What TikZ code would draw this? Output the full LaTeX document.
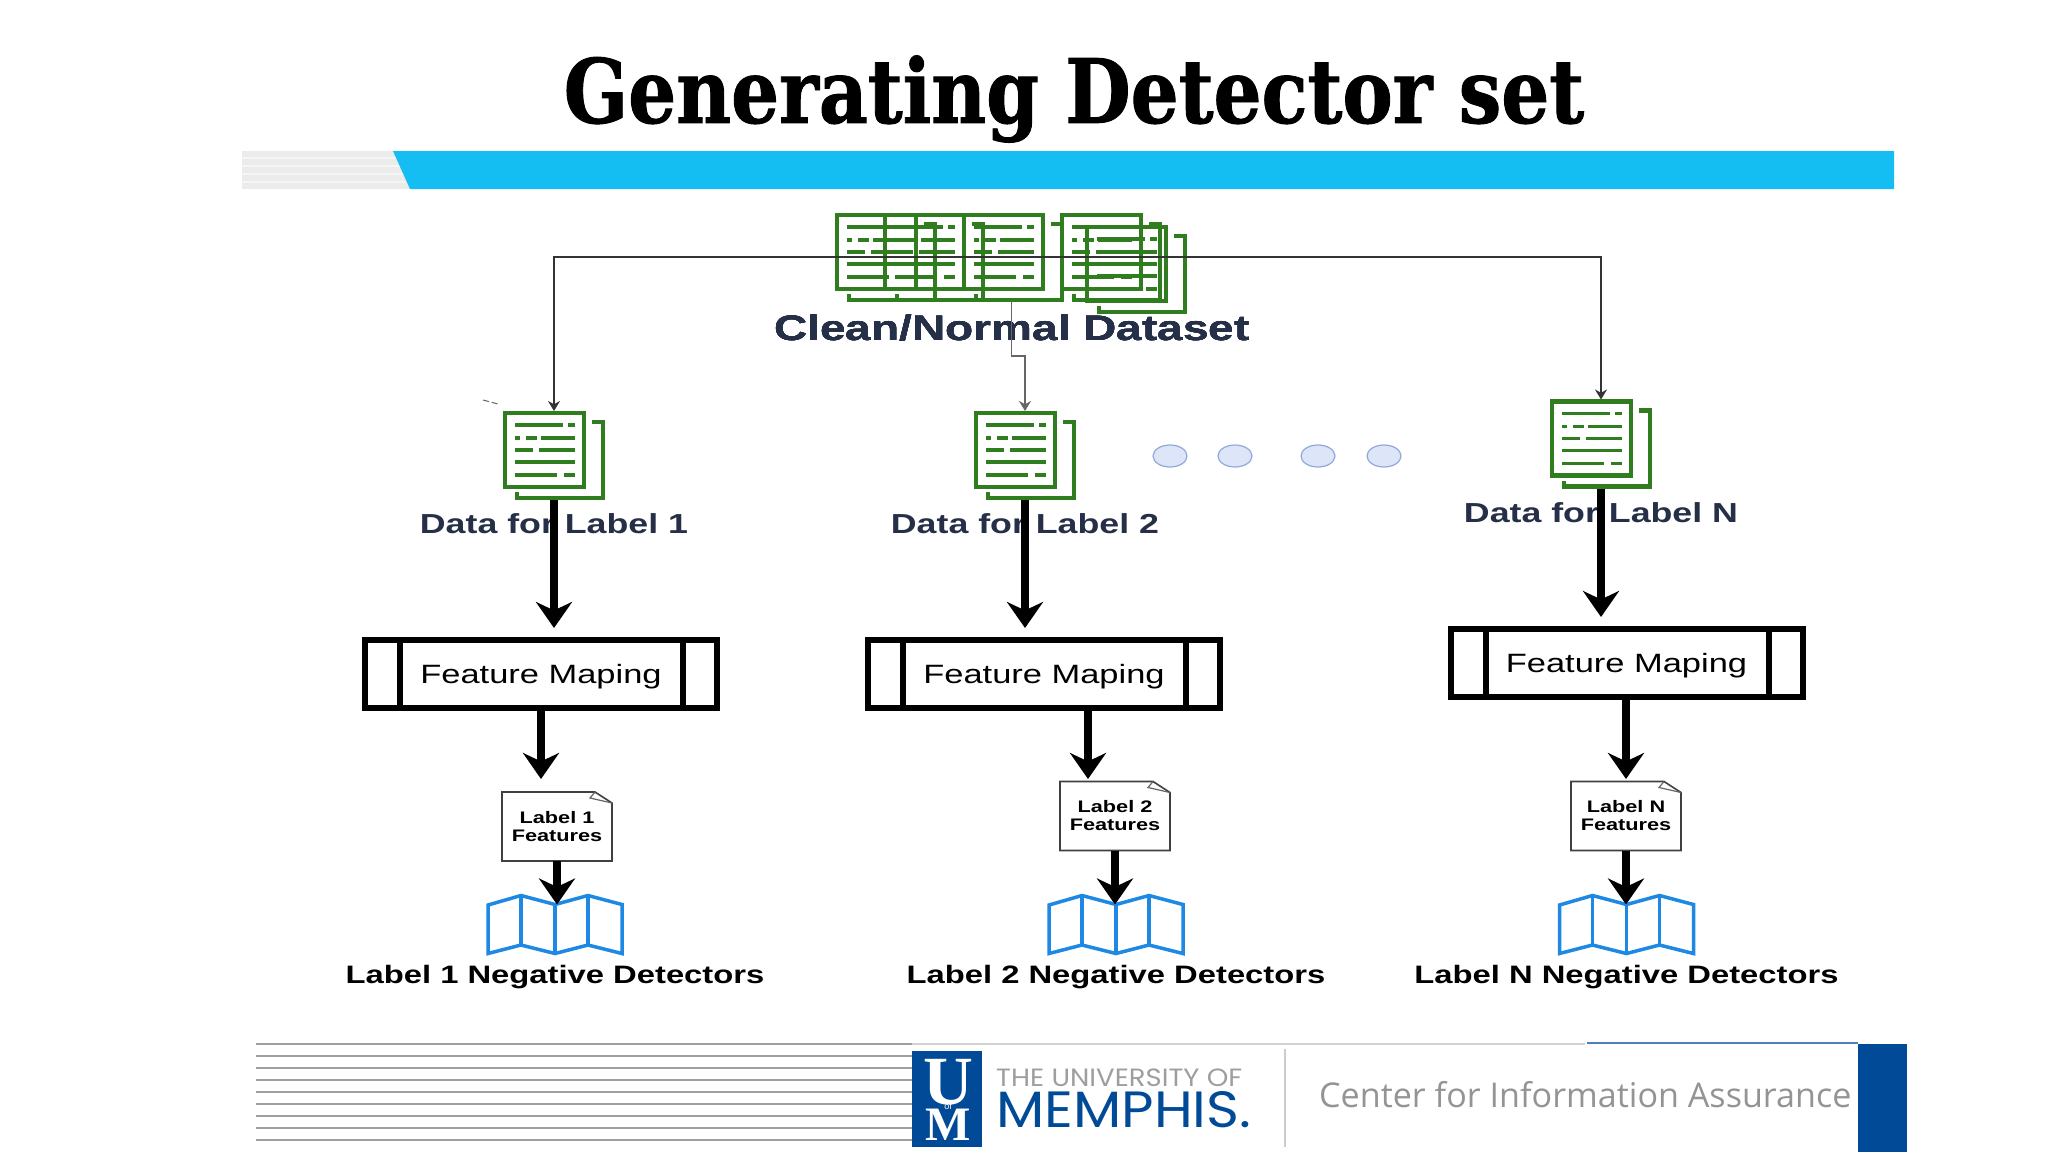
\documentclass[tikz,border=0pt]{standalone}
\usepackage{fontspec}
\usepackage{tikz}
\usetikzlibrary{arrows.meta,shapes.geometric}
\setmainfont{Liberation Sans}
\newfontfamily\widefont[FakeStretch=1.3]{Liberation Sans}
\newfontfamily\titlefont[FakeStretch=0.85,FakeBold=1]{DejaVu Serif}
\newfontfamily\footfont{Open Sans}
\newfontfamily\memphisfont[FakeStretch=1.1]{Poppins}
\newfontfamily\logofont{Liberation Serif}

\definecolor{docgreen}{HTML}{2F7D1F}
\definecolor{navytext}{HTML}{252F47}
\definecolor{barblue}{HTML}{14BDF2}
\definecolor{mapblue}{HTML}{1E88E5}
\definecolor{umblue}{HTML}{004A98}
\definecolor{dotfill}{HTML}{DCE6F8}
\definecolor{dotedge}{HTML}{8FA9D9}

% one page icon with a second page behind it, name/left/top
\newcommand{\docicon}[3]{
    \node[iconbox] (#1) at (#2+51,#3+44.5) {};
    \draw[docline] (#2+2,#3+2) rectangle (#2+81,#3+76);
    \draw[docline] (#2+89,#3+11) -- (#2+100,#3+11) -- (#2+100,#3+87) -- (#2+14,#3+87) -- (#2+14,#3+81);
    \foreach \ly/\la/\lb in {14/12/60,14/65/72,27/12/17,27/23/34,27/38/72,39/12/30,39/36/72,51/12/72,64/12/54,64/61/72}
      \draw[docline, line width=3.5pt] (#2+\la,#3+\ly) -- (#2+\lb,#3+\ly);
}

\begin{document}
\begin{tikzpicture}[x=1pt, y=-1pt,
    iconbox/.style={minimum width=102pt, minimum height=89pt, inner sep=0pt, outer sep=0pt},
    docline/.style={draw=docgreen, line width=4.5pt},
    thinarrow/.style={draw=black!80, line width=1.3pt, -{Stealth[length=10pt, width=12pt]}},
    thickarrow/.style={draw=black, line width=8pt, -{Stealth[length=26pt, width=36pt]}},
    maplabel/.style={font=\widefont\fontsize{26.5}{30}\selectfont, text height=19pt, text depth=0pt},
    datalabel/.style={font=\widefont\bfseries\fontsize{27.5}{30}\selectfont, text=navytext},
    neglabel/.style={font=\widefont\bfseries\fontsize{25.2}{30}\selectfont, text=black},
    mapbox/.style={draw=black, line width=6pt, minimum width=352pt, minimum height=68pt, inner sep=0pt, outer sep=0pt},
    featbox/.style={minimum width=110pt, minimum height=69pt, inner sep=0pt, outer sep=0pt, align=center, font=\widefont\bfseries\fontsize{16.7}{18}\selectfont},
    mapicon/.style={minimum width=136pt, minimum height=58pt, inner sep=0pt, outer sep=0pt},
    dotnode/.style={ellipse, draw=dotedge, fill=dotfill, line width=1.2pt, minimum width=34pt, minimum height=22pt, inner sep=0pt},
    logoletter/.style={inner sep=0pt, text=white, text depth=0pt}]
    \useasboundingbox (0,0) rectangle (2048,1152);
    \fill[white] (0,0) rectangle (2048,1152);

    % draw title and bar
    \node[font=\titlefont\bfseries\fontsize{88.8}{96}\selectfont] (title) at (1074,99) {Generating Detector set};
    \fill[black!8] (242,151) rectangle (412,189);
    \foreach \py in {158,166,174,182}
      \draw[black!4, line width=2pt] (242,\py) -- (405,\py);
    \fill[barblue] (393,151) -- (1894,151) -- (1894,189) -- (410,189) -- cycle;

    % draw dataset icons
    \node[minimum width=353pt, minimum height=88pt, inner sep=0pt, outer sep=0pt] (dataset) at (1011.5,257) {};
    \foreach \px/\py in {835/213,883/213,962/213,1060/213,1085/225}
      \docicon{page\px}{\px}{\py}
    \node[font=\widefont\bfseries\fontsize{35.4}{40}\selectfont, text=navytext] (datasetlabel) at (1012,328) {Clean/Normal Dataset};

    % draw one column per label
    \foreach \n/\dx/\dy/\bx/\by/\ax/\fx/\fy/\mx in {1/554/455.5/541/674/541/557/826.5/555,
                                                    2/1025/455.5/1044/674/1088/1115/816/1116,
                                                    N/1601/444/1626.5/663/1626/1626/816/1626.5}{
      \docicon{data\n}{\dx-51}{\dy-44.5}
      \node[datalabel] (datalabel\n) at (\dx,\dy+68.5) {Data for Label \n};
      \node[mapbox, maplabel] (box\n) at (\bx,\by) {Feature Maping};
      \draw[line width=6pt] (box\n.north west) ++(35,0) -- ++(0,68);
      \draw[line width=6pt] (box\n.north east) ++(-34,0) -- ++(0,68);
      \node[featbox] (feat\n) at (\fx,\fy) {Label \n\\Features};
      \draw[black!75, line width=1.6pt] (feat\n.north west) -- ++(93,0) -- ++(17,11) |- (feat\n.south west) -- cycle;
      \draw[black!60, line width=1.2pt] (feat\n.north west) ++(93,0) -- ++(-5,6) -- ++(22,5);
      \node[mapicon] (map\n) at (\mx,924.5) {};
      \draw[mapblue, line width=3.5pt, line join=miter]
        (\mx-67,905) -- (\mx-34,895.5) -- (\mx,904.5) -- (\mx+33,895.5) -- (\mx+67,904.5)
        -- (\mx+67,953.5) -- (\mx+33,945) -- (\mx,953.5) -- (\mx-34,945) -- (\mx-67,953.5) -- cycle;
      \draw[mapblue, line width=3.5pt] (\mx-34,895.5) -- (\mx-34,945);
      \draw[mapblue, line width=3.5pt] (\mx,904.5) -- (\mx,953.5);
      \draw[mapblue, line width=3.5pt] (\mx+33,895.5) -- (\mx+33,945);
      \node[neglabel] (neg\n) at (\mx,977) {Label \n\ Negative Detectors};
      % draw arrows
      \coordinate (out\n) at (\ax,\by+37);
      \coordinate (tip\n) at (\ax,779);
      \draw[thickarrow, shorten >=12pt] (data\n.south) -- (data\n.south |- box\n.north);
      \draw[thickarrow] (out\n) -- (tip\n);
      \draw[thickarrow, shorten >=-9pt] (feat\n.south) -- (feat\n.south |- map\n.north);
    }

    % draw thin connectors
    \draw[thinarrow] (dataset.center) -| (data1.north);
    \draw[thinarrow] (dataset.center) -| (dataN.north);
    \draw[thinarrow, draw=black!60, line width=1.6pt] (dataset.south) -- ++(0,55) -| (data2.north);
    \draw[black!60, line width=1pt, dash pattern=on 6pt off 3pt] (483,400) -- (498,404);

    % draw dots
    \foreach \dotx [count=\i] in {1170,1235,1318,1384}
      \node[dotnode] (dot\i) at (\dotx,456) {};

    % draw footer
    \foreach \py in {1044,1056,1068,1080,1092,1104,1116,1128,1140}
      \draw[black!38, line width=1.6pt] (256,\py) -- (912,\py);
    \draw[black!18, line width=1.5pt] (912,1044) -- (1585,1044);
    \draw[umblue!70, line width=1.5pt] (1587,1043) -- (1858,1043);
    \fill[umblue] (1858,1044) rectangle (1907,1152);
    \node[fill=umblue, minimum width=70pt, minimum height=96pt, inner sep=0pt] (logo) at (947,1099) {};
    \node[logoletter, text height=46pt, font=\logofont\bfseries\fontsize{69}{70}\selectfont] (logou) at (948,1081.5) {U};
    \node[logoletter, text height=32pt, font=\logofont\bfseries\fontsize{48}{50}\selectfont] (logom) at (948,1124) {M};
    \node[inner sep=0pt, text=white, font=\fontsize{9}{10}\selectfont] (logoof) at (948,1106) {of};
    \node[anchor=west, inner sep=0pt, text=black!38, font=\memphisfont\fontsize{25}{28}\selectfont] (univ) at (996,1078) {THE UNIVERSITY OF};
    \node[anchor=west, inner sep=0pt, text=umblue, font=\memphisfont\fontsize{51}{56}\selectfont] (memphis) at (996,1110) {MEMPHIS.};
    \draw[black!20, line width=1.5pt] (1285,1049) -- (1285,1147);
    \node[anchor=west, inner sep=0pt, text=black!42, font=\footfont\fontsize{34.1}{38}\selectfont] (center) at (1319,1095) {Center for Information Assurance};
\end{tikzpicture}
\end{document}
